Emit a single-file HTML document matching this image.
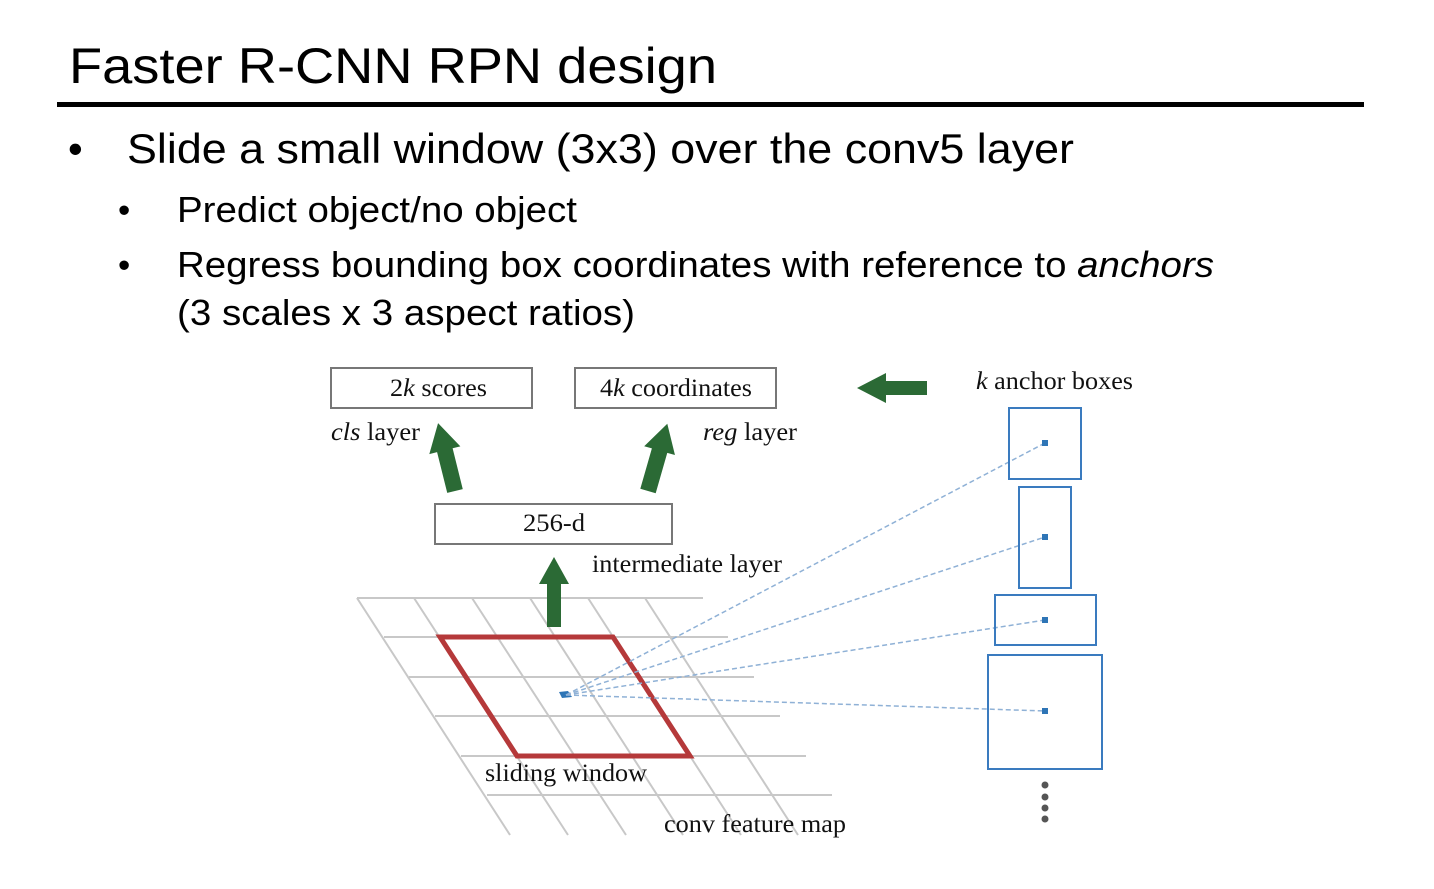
<!DOCTYPE html>
<html><head><meta charset="utf-8"><style>
html,body{margin:0;padding:0;background:#fff;}
svg{display:block}
.a{font-family:"Liberation Sans",sans-serif;fill:#000}
.t{font-family:"Liberation Serif",serif;fill:#111;font-size:25px}
</style></head><body>
<svg width="1434" height="889" viewBox="0 0 1434 889" xmlns="http://www.w3.org/2000/svg">
<text class="a" x="69" y="83" font-size="50" textLength="648" lengthAdjust="spacingAndGlyphs">Faster R-CNN RPN design</text>
<rect x="57" y="102" width="1307" height="5" fill="#000"/>
<text class="a" x="68" y="163" font-size="42">•</text>
<text class="a" x="127" y="163" font-size="42" textLength="947" lengthAdjust="spacingAndGlyphs">Slide a small window (3x3) over the conv5 layer</text>
<text class="a" x="118" y="222" font-size="35">•</text>
<text class="a" x="177" y="222" font-size="36" textLength="400" lengthAdjust="spacingAndGlyphs">Predict object/no object</text>
<text class="a" x="118" y="277" font-size="35">•</text>
<text class="a" x="177" y="277" font-size="36" textLength="1037" lengthAdjust="spacingAndGlyphs">Regress bounding box coordinates with reference to <tspan font-style="italic">anchors</tspan></text>
<text class="a" x="177" y="325" font-size="36" textLength="458" lengthAdjust="spacingAndGlyphs">(3 scales x 3 aspect ratios)</text>

<g stroke="#c8c8c8" stroke-width="2" fill="none">
<line x1="357" y1="598" x2="703" y2="598"/>
<line x1="384" y1="637" x2="728" y2="637"/>
<line x1="409" y1="677" x2="754" y2="677"/>
<line x1="435" y1="716" x2="780" y2="716"/>
<line x1="461" y1="756" x2="806" y2="756"/>
<line x1="487" y1="795" x2="832" y2="795"/>
<line x1="357" y1="598" x2="510" y2="835"/>
<line x1="414" y1="598" x2="568" y2="835"/>
<line x1="472" y1="598" x2="626" y2="835"/>
<line x1="530" y1="598" x2="683" y2="835"/>
<line x1="588" y1="598" x2="741" y2="835"/>
<line x1="645" y1="598" x2="798" y2="835"/>
</g>
<polygon points="440,637 613,637 690,756 517,756" fill="none" stroke="#b5393a" stroke-width="5"/>
<polygon points="559,692 568,691 572,697 562,698" fill="#2e75b6"/>

<g stroke="#8fb1d6" stroke-width="1.5" stroke-dasharray="5,3" fill="none">
<line x1="566" y1="695" x2="1045" y2="443"/>
<line x1="566" y1="695" x2="1045" y2="537"/>
<line x1="566" y1="695" x2="1045" y2="620"/>
<line x1="566" y1="695" x2="1045" y2="711"/>
</g>
<g fill="none" stroke="#3a7bbf" stroke-width="2">
<rect x="1009" y="408" width="72" height="71"/>
<rect x="1019" y="487" width="52" height="101"/>
<rect x="995" y="595" width="101" height="50"/>
<rect x="988" y="655" width="114" height="114"/>
</g>
<g fill="#2e75b6">
<rect x="1042" y="440" width="6" height="6"/>
<rect x="1042" y="534" width="6" height="6"/>
<rect x="1042" y="617" width="6" height="6"/>
<rect x="1042" y="708" width="6" height="6"/>
</g>
<g fill="#555">
<circle cx="1045" cy="785" r="3.5"/><circle cx="1045" cy="797" r="3.5"/>
<circle cx="1045" cy="808" r="3.5"/><circle cx="1045" cy="819" r="3.5"/>
</g>

<g fill="#fff" stroke="#777" stroke-width="2">
<rect x="331" y="368" width="201" height="40"/>
<rect x="575" y="368" width="201" height="40"/>
<rect x="435" y="504" width="237" height="40"/>
</g>
<text class="t" x="390" y="396" textLength="97" lengthAdjust="spacingAndGlyphs">2<tspan font-style="italic">k</tspan> scores</text>
<text class="t" x="600" y="396" textLength="152" lengthAdjust="spacingAndGlyphs">4<tspan font-style="italic">k</tspan> coordinates</text>
<text class="t" x="523" y="531" textLength="62" lengthAdjust="spacingAndGlyphs">256-d</text>
<text class="t" x="331" y="440" textLength="89" lengthAdjust="spacingAndGlyphs"><tspan font-style="italic">cls</tspan> layer</text>
<text class="t" x="703" y="440" textLength="94" lengthAdjust="spacingAndGlyphs"><tspan font-style="italic">reg</tspan> layer</text>
<text class="t" x="592" y="572" textLength="190" lengthAdjust="spacingAndGlyphs">intermediate layer</text>
<text class="t" x="976" y="389" textLength="157" lengthAdjust="spacingAndGlyphs"><tspan font-style="italic">k</tspan> anchor boxes</text>
<text class="t" x="485" y="781" textLength="162" lengthAdjust="spacingAndGlyphs">sliding window</text>
<text class="t" x="664" y="832" textLength="182" lengthAdjust="spacingAndGlyphs">conv feature map</text>

<g fill="#2b6a35">
<polygon points="554,557 569,584 561,584 561,627 547,627 547,584 539,584"/>
<polygon points="857,388 886,373 886,381 927,381 927,395 886,395 886,403"/>
<g transform="translate(455,491) rotate(-14)"><polygon points="0,-70 16,-42 8,-42 8,0 -8,0 -8,-42 -16,-42"/></g>
<g transform="translate(648,491) rotate(16)"><polygon points="0,-70 16,-42 8,-42 8,0 -8,0 -8,-42 -16,-42"/></g>
</g>
</svg>
</body></html>
